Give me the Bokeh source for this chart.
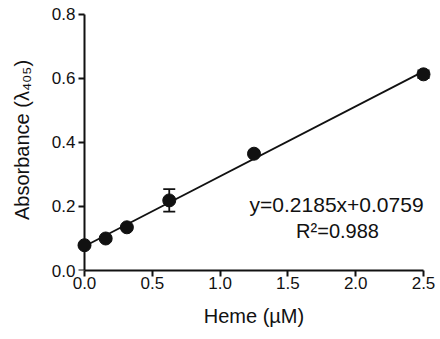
from bokeh.plotting import figure
from bokeh.models import Range1d, Whisker, ColumnDataSource, Label, FixedTicker
from bokeh.embed import file_html
from bokeh.resources import INLINE

# data
heme = [0.0, 0.15625, 0.3125, 0.625, 1.25, 2.5]
absorbance = [0.079, 0.100, 0.135, 0.219, 0.365, 0.613]
err = [0.004, 0.004, 0.005, 0.035, 0.006, 0.012]
slope = 0.2185
intercept = 0.0759
r2 = 0.988
x_ticks = [0.0, 0.5, 1.0, 1.5, 2.0, 2.5]
y_ticks = [0.0, 0.2, 0.4, 0.6, 0.8]

FONT = "Liberation Sans"
INK = "#111111"
X0, X1 = -0.059, 2.559
PX_PER_X = 135.6

p = figure(width=436, height=330, output_backend="svg", toolbar_location=None,
           x_range=Range1d(X0, X1), y_range=Range1d(0.0, 0.8156),
           min_border_left=76, min_border_right=5, min_border_top=9, min_border_bottom=60)
p.outline_line_color = None
p.grid.visible = False
p.background_fill_color = "white"

# y axis line and ticks drawn at x = 0 inside the frame
tick_len = 6 / PX_PER_X
p.line([0.0, 0.0], [y_ticks[0], y_ticks[-1]], line_color=INK, line_width=2)
p.segment(x0=[-tick_len] * len(y_ticks), y0=y_ticks, x1=[0.0] * len(y_ticks), y1=y_ticks,
          line_color=INK, line_width=2)

# fit line
fx = [0.0, 2.5]
fy = [intercept + slope * v for v in fx]
p.line(fx, fy, line_color=INK, line_width=1.8)

src = ColumnDataSource(dict(x=heme, y=absorbance,
                            lo=[a - e for a, e in zip(absorbance, err)],
                            hi=[a + e for a, e in zip(absorbance, err)]))
w = Whisker(source=src, base="x", lower="lo", upper="hi", line_color=INK, line_width=1.8)
for h in (w.upper_head, w.lower_head):
    h.size = 12
    h.line_color = INK
    h.line_width = 1.8
p.add_layout(w)
p.scatter("x", "y", source=src, size=13, fill_color=INK, line_color=INK)

for ax in (p.xaxis[0], p.yaxis[0]):
    ax.axis_line_width = 2
    ax.axis_line_color = INK
    ax.major_tick_line_width = 2
    ax.major_tick_line_color = INK
    ax.major_tick_out = 6
    ax.major_tick_in = 0
    ax.minor_tick_line_color = None
    ax.major_label_text_font = FONT
    ax.major_label_text_font_size = "17px"
    ax.major_label_text_color = INK
    ax.axis_label_text_font = FONT
    ax.axis_label_text_font_size = "20px"
    ax.axis_label_text_font_style = "normal"
    ax.axis_label_text_color = INK

p.yaxis.axis_line_color = None
p.yaxis.major_tick_line_color = None
p.yaxis.major_tick_out = 0
p.xaxis.ticker = FixedTicker(ticks=x_ticks)
p.yaxis.ticker = FixedTicker(ticks=y_ticks)
p.xaxis.bounds = (0.0, 2.5)
p.xaxis.major_label_overrides = {t: f"{t:.1f}" for t in x_ticks}
p.yaxis.major_label_overrides = {t: f"{t:.1f}" for t in y_ticks}
p.xaxis.axis_label = "Heme (µM)"
p.yaxis.axis_label = "Absorbance (λ₄₀₅)"
p.xaxis.major_label_standoff = 0
p.yaxis.major_label_standoff = 1
p.xaxis.axis_label_standoff = 13
p.yaxis.axis_label_standoff = 16

p.add_layout(Label(x=1.859, y=0.206, text=f"y={slope}x+{intercept}", text_font=FONT,
                   text_font_size="21px", text_color=INK, text_align="center", text_baseline="middle"))
p.add_layout(Label(x=1.866, y=0.122, text=f"R²={r2}", text_font=FONT,
                   text_font_size="20px", text_color=INK, text_align="center", text_baseline="middle"))

open("out.html", "w").write(file_html(p, INLINE))
